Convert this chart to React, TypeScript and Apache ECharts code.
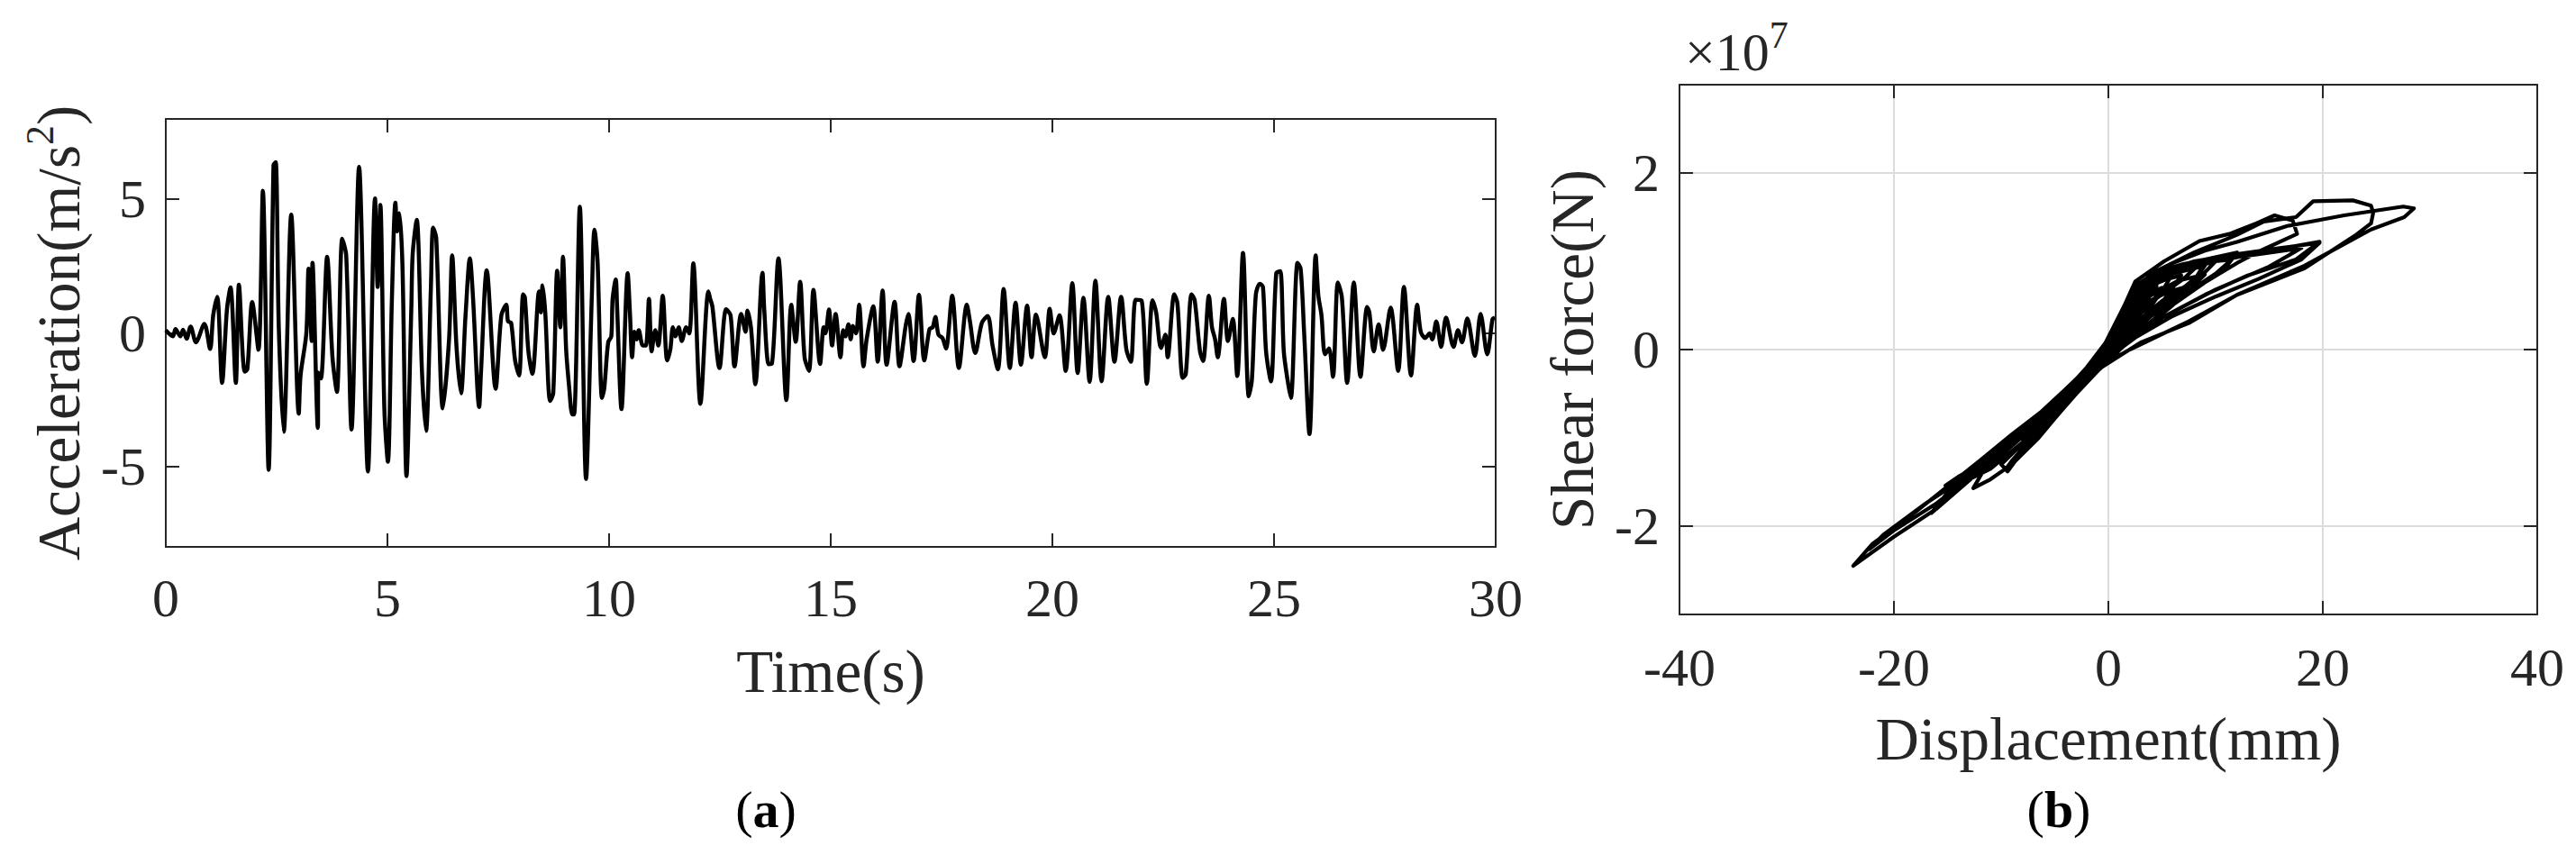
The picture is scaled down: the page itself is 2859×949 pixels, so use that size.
import React, { useEffect, useRef } from "react";
import * as echarts from "echarts";

// ---------- Panel (a): acceleration time history ----------
const TIME: number[] = [
  0.00, 0.16, 0.22, 0.33, 0.39, 0.47, 0.56, 0.68, 0.87, 1.00, 1.07, 1.16, 1.27, 1.38, 1.46, 1.58, 1.65, 1.78, 1.84, 1.95,
  2.09, 2.19, 2.32, 2.43, 2.48, 2.55, 2.66, 2.83, 3.00, 3.04, 3.17, 3.22, 3.29, 3.31, 3.43, 3.44, 3.50, 3.64, 3.76, 3.86,
  3.98, 4.07, 4.19, 4.36, 4.56, 4.72, 4.78, 4.84, 4.93, 5.01, 5.10, 5.18, 5.22, 5.27, 5.34, 5.43, 5.54, 5.57, 5.66, 5.78,
  5.87, 5.98, 6.03, 6.10, 6.25, 6.39, 6.46, 6.56, 6.66, 6.76, 6.86, 6.93, 7.07, 7.11, 7.24, 7.44,
  7.57, 7.68, 7.72, 7.79, 7.88, 7.97, 8.06, 8.10, 8.18, 8.27, 8.42, 8.46, 8.50, 8.56, 8.67, 8.74, 8.83, 8.90, 8.96, 9.03,
  9.10, 9.17, 9.21, 9.34, 9.48, 9.61, 9.67, 9.74, 9.84, 9.89, 9.98, 10.05, 10.08, 10.15, 10.18, 10.28, 10.42, 10.47, 10.52, 10.57,
  10.62, 10.67, 10.76, 10.83, 10.90, 10.96, 11.04, 11.11, 11.21, 11.31, 11.38, 11.44, 11.50, 11.57, 11.64, 11.74, 11.81, 11.90, 12.06, 12.24,
  12.28, 12.33, 12.49, 12.64, 12.74, 12.83, 12.98, 13.08, 13.12, 13.20, 13.30, 13.46, 13.50, 13.60, 13.67, 13.82, 14.00, 14.11, 14.21, 14.31,
  14.41, 14.51, 14.61, 14.76, 14.84, 14.88,
  14.96, 15.03, 15.11, 15.22, 15.28, 15.33, 15.40, 15.45, 15.50, 15.57, 15.64, 15.74, 15.81, 15.96, 16.06, 16.17, 16.26, 16.44, 16.55, 16.69,
  16.75, 16.87, 16.99, 17.11, 17.23, 17.30, 17.36, 17.43, 17.52, 17.60, 17.74, 17.89, 18.07, 18.14, 18.26, 18.41, 18.54, 18.65, 18.77, 18.90,
  19.04, 19.17, 19.29, 19.43, 19.53, 19.63, 19.83, 19.94, 20.03, 20.16, 20.30, 20.45, 20.57, 20.70, 20.84, 20.97, 21.11, 21.26, 21.40, 21.55,
  21.67, 21.77, 21.88, 22.01, 22.13, 22.26, 22.34, 22.45,
  22.55, 22.60, 22.75, 22.82, 22.94, 23.01, 23.14, 23.21, 23.33, 23.40, 23.53, 23.60, 23.67, 23.73, 23.87, 23.96, 24.07, 24.17, 24.30, 24.43,
  24.50, 24.59, 24.68, 24.75, 24.82, 24.93, 25.05, 25.14, 25.22, 25.31, 25.38, 25.53, 25.60, 25.68, 25.80, 25.94, 26.00, 26.07, 26.15, 26.24,
  26.33, 26.44, 26.53, 26.65, 26.80, 26.95, 27.10, 27.15, 27.25, 27.36, 27.46, 27.63, 27.80, 27.93, 28.09, 28.23, 28.31, 28.41, 28.51, 28.57,
  28.66, 28.77, 28.88, 29.05, 29.15, 29.24, 29.36, 29.53, 29.66, 29.81, 29.93, 29.98,
];

const ACCEL: number[] = [
  0.10, -0.13, 0.14, -0.13, 0.12, -0.22, 0.24, -0.35, 0.34, -0.60, 0.66, 1.35, -1.87, 0.88, 1.70, -1.87, 1.80, -1.45, -1.36, 1.15,
  -0.63, 5.31, -5.12, 6.27, 6.38, 0.15, -3.70, 4.42, -3.02, -1.59, -0.02, 2.40, -0.30, 2.62, -3.55, -1.48, -1.70, 2.85, -0.91, -2.21,
  3.52, 2.90, -3.61, 6.21, -5.18, 5.03, 1.72, 4.78, -2.82, -4.82, 1.22, 4.87, 3.80, 4.47, 2.45, -5.35, 0.99, 2.96, 4.23, -1.48,
  -3.66, 1.67, 3.93, 3.57, -2.82, -0.24, 2.90, -0.58, -2.26, 0.60, 2.79, 1.33, -2.77, -1.48, 2.34, -2.09,
  0.66, 1.05, 0.43, 0.38, -1.03, -1.59, 1.44, 1.33, -0.69, -1.53, 1.55, 0.77, 1.78, 0.77, -2.54, -2.26, 2.32, 0.21, 2.85, -0.58,
  -2.04, -3.05, -3.05, 4.72, -5.46, 1.33, 3.86, 2.68, -2.43, -2.09, -0.35, -0.13, 1.27, 2.00, 0.99, -2.85, 2.23, 0.77, -0.91, 0.04,
  -0.24, 0.10, -0.47, -0.47, 1.27, -0.69, 0.10, -0.47, 1.39, -1.03, -0.63, 0.21, -0.13, 0.21, -0.30, 0.21, -0.02, 2.60, -2.65, 1.55,
  1.28, 0.99, -1.31, 0.88, 0.66, -1.25, 0.71, 0.04, 0.83, 0.21, -1.92, 2.25, 0.88, -1.17, -1.16, 2.79, -2.51, 1.05, -0.33, 1.91,
  -0.91, -1.42, 1.61, -1.16, 0.21, -0.02,
  0.88, -0.47, 0.71, -0.91, 0.10, -0.13, 0.32, -0.24, 0.26, -0.02, 1.05, -1.25, -0.24, 0.99, -1.08, 1.58, -1.19, 1.16, -1.25, 0.26,
  0.71, -1.05, 1.42, -1.03, 0.15, 0.21, 0.60, -0.07, -0.19, -0.58, 1.39, -1.31, 1.05, 0.43, -0.75, 0.38, 0.63, -0.47, -1.36, 1.64,
  -1.31, 1.13, -1.19, 1.02, -0.91, 0.68, -0.91, 0.90, -0.02, 0.66, -1.42, 1.86, -1.50, 1.31, -1.83, 1.95, -1.81, 1.35, -1.08, 1.35,
  -0.63, -1.08, 1.24, 1.22, -1.90, 1.22, 0.77, -0.56,
  -0.07, -0.91, 1.44, 1.11, -1.68, -1.53, 1.44, 1.22, -0.69, -1.05, 1.39, 0.21, -0.24, -0.91, 1.27, -0.30, 0.52, -1.61, 2.99, -2.37,
  -1.76, 1.44, 1.84, 1.72, -0.69, -1.81, 2.23, 2.31, -0.69, -1.81, -2.43, 2.62, 2.40, -0.02, -3.78, 2.90, 1.39, 0.66, -0.80, -0.58,
  -1.64, 1.89, 1.33, -1.87, 1.89, -1.64, 0.97, 0.77, -0.69, 0.32, -0.63, 0.94, -1.42, 1.72, -1.59, 1.05, 0.04, -0.19, -0.02, -0.24,
  0.43, -0.52, 0.57, -0.52, 0.10, -0.35, 0.54, -0.86, 0.71, -0.80, 0.52, 0.57,
];

// ---------- Panel (b): hysteresis path, [displacement (mm), shear force (N)] ----------
const HYSTERESIS: [number, number][] = [
  [0, 0], [0.8, 0.15e7], [1.5, 0.32e7], [0.6, 0.08e7], [-0.8, -0.12e7], [-1.6, -0.2e7], [-0.6, -0.05e7],
  [1.0, 0.28e7], [2.2, 0.52e7], [3.2, 0.62e7], [1.8, 0.32e7], [0.0, -0.04e7], [-2.0, -0.26e7], [-3.5, -0.42e7], [-1.6, -0.16e7],
  [0.5, 0.16e7], [1.8, 0.5e7], [3.5, 0.7e7], [5.5, 0.8e7], [6.8, 0.84e7], [5.2, 0.56e7], [2.6, 0.26e7], [0.0, -0.1e7],
  [-2.0, -0.3e7], [-4.0, -0.55e7], [-6.0, -0.78e7], [-5.0, -0.6e7], [-3.0, -0.37e7], [-1.0, -0.1e7],
  [1.0, 0.36e7], [2.5, 0.72e7], [4.5, 0.88e7], [7.0, 0.97e7], [9.2, 1.02e7], [8.2, 0.82e7], [5.2, 0.52e7], [2.0, 0.16e7], [-0.5, -0.15e7],
  [-3.0, -0.46e7], [-5.5, -0.82e7], [-7.5, -1.12e7], [-9.6, -1.36e7], [-9.0, -1.26e7], [-7.0, -0.98e7], [-5.0, -0.68e7], [-2.5, -0.33e7], [-0.5, -0.04e7],
  [1.5, 0.46e7], [3.0, 0.72e7], [6.0, 0.92e7], [9.0, 1.02e7], [12.0, 1.1e7], [11.0, 0.94e7], [8.0, 0.7e7], [4.0, 0.38e7], [1.0, 0.05e7], [-1.0, -0.2e7],
  [-3.5, -0.56e7], [-6.5, -1.0e7], [-9.0, -1.3e7], [-11.0, -1.47e7], [-12.6, -1.57e7], [-11.6, -1.36e7], [-8.0, -0.98e7], [-5.0, -0.64e7], [-2.0, -0.24e7], [0.0, 0.06e7],
  [1.2, 0.42e7], [2.5, 0.77e7], [5.2, 1.0e7], [8.5, 1.23e7], [11.3, 1.31e7], [13.8, 1.43e7], [15.5, 1.52e7], [17.2, 1.46e7], [17.6, 1.31e7],
  [14.2, 1.12e7], [12.0, 0.98e7], [9.0, 0.76e7], [5.0, 0.42e7], [1.0, 0.02e7], [-1.2, -0.25e7],
  [-4.0, -0.6e7], [-8.0, -1.05e7], [-11.0, -1.35e7], [-13.5, -1.5e7], [-15.2, -1.54e7], [-14.0, -1.44e7], [-11.0, -1.24e7], [-8.0, -0.94e7], [-5.0, -0.6e7], [-2.0, -0.2e7],
  [0.5, 0.2e7], [2.2, 0.62e7], [4.5, 0.86e7], [8.0, 1.0e7], [12.0, 1.08e7], [16.0, 1.15e7], [19.7, 1.21e7],
  [18.0, 1.02e7], [14.0, 0.8e7], [10.0, 0.6e7], [6.0, 0.38e7], [2.0, 0.1e7], [-1.0, -0.22e7],
  [-4.0, -0.52e7], [-8.0, -0.96e7], [-12.0, -1.36e7], [-16.0, -1.74e7], [-19.9, -2.04e7], [-22.3, -2.26e7],
  [-21.0, -2.1e7], [-17.0, -1.74e7], [-13.0, -1.42e7], [-10.0, -1.16e7], [-7.0, -0.86e7], [-4.0, -0.5e7], [-2.0, -0.28e7], [0.0, 0.05e7],
  [2.0, 0.6e7], [4.0, 0.86e7], [8.0, 1.1e7], [12.0, 1.3e7], [14.5, 1.45e7], [17.5, 1.5e7], [19.1, 1.68e7], [22.8, 1.69e7],
  [24.5, 1.63e7], [24.7, 1.55e7], [24.5, 1.43e7], [23.0, 1.29e7], [18.3, 0.92e7], [12.0, 0.62e7], [7.5, 0.32e7], [2.0, 0.0], [-1.0, -0.2e7],
  [-4.0, -0.5e7], [-8.0, -0.94e7], [-12.0, -1.38e7], [-16.0, -1.8e7], [-20.0, -2.12e7], [-23.8, -2.45e7],
  [-22.0, -2.2e7], [-18.0, -1.84e7], [-15.0, -1.55e7], [-12.0, -1.26e7], [-9.0, -0.96e7], [-6.0, -0.68e7], [-3.0, -0.34e7], [-0.5, -0.05e7],
  [1.5, 0.46e7], [3.0, 0.75e7], [6.0, 0.98e7], [9.0, 1.12e7], [12.0, 1.22e7], [16.7, 1.4e7], [22.0, 1.52e7], [27.5, 1.62e7], [28.5, 1.6e7],
  [27.6, 1.5e7], [24.5, 1.36e7], [18.3, 0.95e7], [12.0, 0.62e7], [7.5, 0.3e7], [3.0, 0.08e7], [-1.0, -0.23e7],
  [-4.0, -0.55e7], [-7.0, -0.95e7], [-10.0, -1.3e7], [-9.4, -1.38e7], [-8.0, -1.15e7], [-6.7, -1.0e7], [-5.5, -0.77e7], [-3.0, -0.4e7], [-0.5, -0.02e7],
  [1.5, 0.5e7], [3.5, 0.78e7], [7.0, 0.95e7], [11.0, 1.02e7], [15.0, 1.12e7], [19.7, 1.22e7],
  [17.5, 1.02e7], [13.0, 0.84e7], [9.0, 0.62e7], [5.0, 0.36e7], [1.5, 0.1e7], [-1.0, -0.18e7],
  [-3.5, -0.48e7], [-6.5, -0.9e7], [-7.5, -1.0e7], [-5.5, -0.7e7], [-2.5, -0.28e7], [0.0, 0.08e7],
  [2.0, 0.62e7], [4.0, 0.8e7], [7.0, 0.9e7], [10.0, 1.0e7], [11.5, 1.02e7], [10.0, 0.86e7], [7.0, 0.62e7], [4.0, 0.4e7], [1.0, 0.1e7], [-1.5, -0.2e7],
  [-5.0, -0.62e7], [-9.0, -1.05e7], [-13.0, -1.48e7], [-16.5, -1.85e7], [-15.0, -1.62e7], [-12.0, -1.3e7], [-8.0, -0.9e7], [-4.0, -0.45e7], [-1.0, -0.1e7],
  [1.5, 0.5e7], [3.0, 0.72e7], [6.0, 0.86e7], [9.0, 0.95e7], [8.0, 0.78e7], [5.0, 0.55e7], [3.0, 0.35e7], [0.5, 0.05e7], [-1.5, -0.18e7], [-3.0, -0.35e7], [-1.0, -0.08e7],
  [1.0, 0.35e7], [2.5, 0.62e7], [4.5, 0.72e7], [3.0, 0.45e7], [1.0, 0.15e7], [0.0, 0.0],
  [-2.5, -0.32e7], [-5.0, -0.68e7], [-3.0, -0.4e7], [-0.5, -0.02e7], [2.0, 0.58e7], [4.0, 0.8e7], [7.0, 0.92e7], [10.0, 1.0e7],
  [8.0, 0.75e7], [5.0, 0.48e7], [2.0, 0.18e7], [0.0, -0.08e7], [-3.0, -0.42e7], [-6.0, -0.8e7], [-8.0, -1.02e7],
  [-6.5, -0.85e7], [-4.0, -0.5e7], [-1.0, -0.08e7], [1.5, 0.45e7], [3.5, 0.72e7], [6.0, 0.86e7], [5.0, 0.66e7], [3.0, 0.42e7], [1.0, 0.12e7],
  [-1.5, -0.2e7], [-4.0, -0.52e7], [-2.0, -0.22e7], [0.5, 0.2e7], [2.5, 0.68e7], [5.0, 0.86e7], [9.0, 1.0e7], [14.0, 1.08e7], [18.0, 1.15e7],
  [15.0, 0.94e7], [10.0, 0.68e7], [5.0, 0.36e7], [1.0, 0.0], [-3.0, -0.42e7], [-7.0, -0.88e7], [-10.5, -1.25e7],
  [-9.0, -1.05e7], [-6.0, -0.72e7], [-3.0, -0.36e7], [-0.5, 0.0], [1.8, 0.55e7], [3.5, 0.78e7], [6.0, 0.9e7], [8.5, 0.97e7],
  [7.0, 0.8e7], [4.5, 0.58e7], [2.5, 0.35e7], [0.5, 0.05e7], [-1.5, -0.2e7], [-3.5, -0.45e7], [-2.0, -0.25e7], [0.0, 0.05e7],
  [1.5, 0.4e7], [3.0, 0.6e7], [5.0, 0.7e7], [4.0, 0.52e7], [2.0, 0.3e7], [0.0, 0.0],
  [2.0, 0.45e7], [4.0, 0.62e7], [6.0, 0.7e7], [4.5, 0.45e7], [2.5, 0.2e7], [0.5, -0.08e7], [-2.0, -0.35e7], [-4.5, -0.66e7],
  [-3.0, -0.45e7], [-1.0, -0.15e7], [1.0, 0.2e7], [3.0, 0.5e7], [5.5, 0.65e7], [7.5, 0.72e7], [6.0, 0.5e7], [3.5, 0.25e7], [1.0, 0.02e7],
  [-1.5, -0.28e7], [-3.0, -0.48e7], [-1.5, -0.25e7], [0.5, 0.1e7], [2.5, 0.42e7], [4.5, 0.58e7], [3.0, 0.32e7], [1.0, 0.05e7],
  [-1.0, -0.2e7], [-2.5, -0.4e7], [-1.0, -0.18e7], [0.5, 0.08e7], [3.0, 0.55e7], [6.5, 0.78e7], [9.0, 0.85e7], [7.0, 0.62e7], [4.0, 0.3e7],
  [1.5, 0.05e7], [-0.5, -0.18e7], [-3.0, -0.5e7], [-5.5, -0.85e7], [-4.0, -0.62e7], [-2.0, -0.3e7], [0.0, 0.02e7],
  [1.5, 0.3e7], [3.5, 0.52e7], [2.0, 0.25e7], [0.0, 0.0],
];

const A_Y_TICKS = [-5, 0, 5];
const B_Y_TICKS = [-2e7, 0, 2e7];

const FONT = '"Liberation Serif", "Times New Roman", serif';
const AX = "#262626";

export default function App() {
  const ref = useRef<HTMLDivElement>(null);

  useEffect(() => {
    if (!ref.current) return;
    const chart = echarts.init(ref.current, undefined, { renderer: "svg" });

    const axisLine = { show: true, onZero: false, lineStyle: { color: AX, width: 2 } };
    const tick = { show: true, inside: true, length: 15, lineStyle: { color: AX, width: 2 } };
    const label = (margin: number) => ({ fontSize: 60, fontFamily: FONT, color: AX, margin });
    const nameStyle = { fontSize: 67, fontFamily: FONT, color: AX };

    const option: any = {
      animation: false,
      backgroundColor: "#fff",
      grid: [
        { left: 184, top: 132, width: 1476, height: 475, containLabel: false },
        { left: 1864, top: 94, width: 952, height: 588, containLabel: false },
      ],
      xAxis: [
        {
          gridIndex: 0, type: "value", min: 0, max: 30, interval: 5, position: "bottom",
          axisLine, axisTick: tick, axisLabel: label(27), splitLine: { show: false },
          name: "Time(s)", nameLocation: "middle", nameGap: 104, nameTextStyle: nameStyle,
        },
        {
          gridIndex: 0, type: "value", min: 0, max: 30, interval: 5, position: "top",
          axisLine, axisTick: tick, axisLabel: { show: false }, splitLine: { show: false },
        },
        {
          gridIndex: 1, type: "value", min: -40, max: 40, interval: 20, position: "bottom",
          axisLine, axisTick: tick, axisLabel: label(29),
          splitLine: { show: true, lineStyle: { color: "#dcdcdc", width: 2 } },
          name: "Displacement(mm)", nameLocation: "middle", nameGap: 104, nameTextStyle: nameStyle,
        },
        {
          gridIndex: 1, type: "value", min: -40, max: 40, interval: 20, position: "top",
          axisLine, axisTick: tick, axisLabel: { show: false }, splitLine: { show: false },
        },
      ],
      yAxis: [
        {
          gridIndex: 0, type: "value", min: -8, max: 8, position: "left",
          axisLine, axisTick: { ...tick, customValues: A_Y_TICKS },
          axisLabel: { ...label(22), customValues: A_Y_TICKS }, splitLine: { show: false },
          name: "{m|Acceleration(m/s}{s|2}{m|)}", nameLocation: "middle", nameGap: 86, nameRotate: 90,
          nameTextStyle: {
            ...nameStyle,
            rich: {
              m: { fontSize: 67, fontFamily: FONT, color: AX, verticalAlign: "bottom" },
              s: { fontSize: 44, fontFamily: FONT, color: AX, verticalAlign: "bottom", padding: [0, 0, 32, 0] },
            },
          },
        },
        {
          gridIndex: 0, type: "value", min: -8, max: 8, position: "right",
          axisLine, axisTick: { ...tick, customValues: A_Y_TICKS },
          axisLabel: { show: false }, splitLine: { show: false },
        },
        {
          gridIndex: 1, type: "value", min: -3e7, max: 3e7, position: "left",
          axisLine, axisTick: { ...tick, customValues: B_Y_TICKS },
          axisLabel: { ...label(22), customValues: B_Y_TICKS, formatter: (v: number) => String(Math.round(v / 1e7)) },
          splitLine: { show: true, lineStyle: { color: "#dcdcdc", width: 2 } },
          name: "Shear force(N)", nameLocation: "middle", nameGap: 86, nameRotate: 90, nameTextStyle: nameStyle,
        },
        {
          gridIndex: 1, type: "value", min: -3e7, max: 3e7, position: "right",
          axisLine, axisTick: { ...tick, customValues: B_Y_TICKS },
          axisLabel: { show: false }, splitLine: { show: false },
        },
      ],
      series: [
        {
          type: "line", xAxisIndex: 0, yAxisIndex: 0,
          data: TIME.map((t, i) => [t, ACCEL[i]]),
          showSymbol: false, smooth: 0.3, clip: true,
          lineStyle: { color: "#000", width: 4.5, join: "round" },
          z: 5,
        },
        {
          type: "line", xAxisIndex: 2, yAxisIndex: 2,
          data: HYSTERESIS,
          showSymbol: false, smooth: false, clip: true,
          lineStyle: { color: "#000", width: 4.2, join: "round" },
          z: 5,
        },
      ],
      graphic: [
        {
          type: "text", left: 1870, top: 18,
          style: {
            text: "{m|×10}{s|7}",
            rich: {
              m: { fontSize: 60, fontFamily: FONT, fill: AX, verticalAlign: "bottom" },
              s: { fontSize: 42, fontFamily: FONT, fill: AX, verticalAlign: "bottom", padding: [0, 0, 28, 0] },
            },
          },
        },
        {
          type: "text", x: 850, y: 898,
          style: {
            text: "{p|(}{b|a}{p|)}", align: "center", verticalAlign: "middle",
            rich: {
              p: { fontSize: 58, fontFamily: FONT, fill: "#000" },
              b: { fontSize: 58, fontFamily: FONT, fontWeight: "bold", fill: "#000" },
            },
          },
        },
        {
          type: "text", x: 2285, y: 898,
          style: {
            text: "{p|(}{b|b}{p|)}", align: "center", verticalAlign: "middle",
            rich: {
              p: { fontSize: 58, fontFamily: FONT, fill: "#000" },
              b: { fontSize: 58, fontFamily: FONT, fontWeight: "bold", fill: "#000" },
            },
          },
        },
      ],
    };

    chart.setOption(option);
    return () => chart.dispose();
  }, []);

  return (
    <div
      ref={ref}
      style={{ position: "fixed", left: 0, top: 0, width: 2859, height: 949, background: "#fff" }}
    />
  );
}
